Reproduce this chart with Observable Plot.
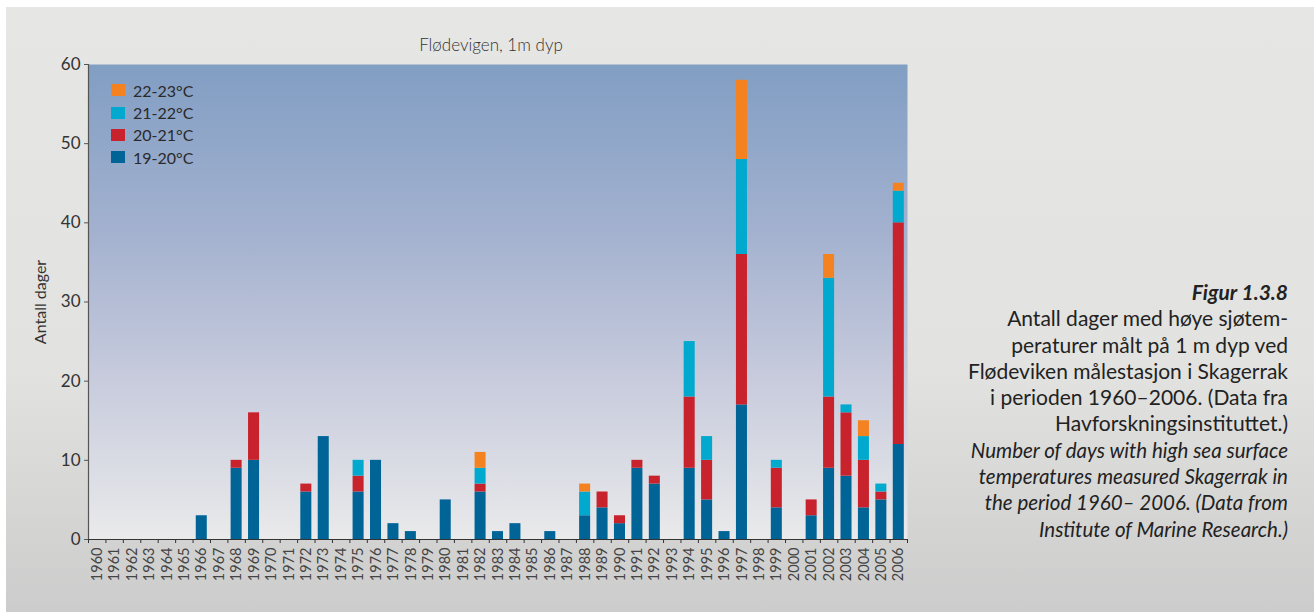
<!DOCTYPE html>
<html>
<head>
<meta charset="utf-8">
<script src="https://cdn.jsdelivr.net/npm/d3@7"></script>
<script src="https://cdn.jsdelivr.net/npm/@observablehq/plot@0.6"></script>
<style>
  html, body { margin: 0; padding: 0; background: #ffffff; }
  body { width: 1314px; height: 612px; position: relative; overflow: hidden; font-family: Lato, "Open Sans", sans-serif; }
  #panel { position: absolute; left: 6px; top: 7px; width: 1308px; height: 605px;
           background: linear-gradient(to bottom, #e6e6e4 0%, #e2e2e0 60%, #cccccc 100%); }
  #chart { position: absolute; left: 0; top: 0; }
  #title { position: absolute; left: 341px; width: 300px; top: 34px; text-align: center; font-size: 17px; color: #333; font-weight: 300; }
  #legend { position: absolute; left: 111px; top: 79px; font-size: 16px; color: #2a2a2a; }
  #legend .row { display: flex; align-items: center; height: 22.4px; }
  #legend .sw { width: 14px; height: 12px; margin-right: 8px; }
  #caption { position: absolute; right: 26px; top: 279px; text-align: right; font-size: 21px; line-height: 26.3px; color: #222; }
  #caption .en { font-style: italic; font-size: 20.5px; }
  #caption .fig { font-style: italic; font-weight: 700; }
</style>
</head>
<body>
<svg width="0" height="0" style="position:absolute">
  <defs>
    <linearGradient id="plotbg" x1="0" y1="0" x2="0" y2="1">
      <stop offset="0%" stop-color="#819ec3"/>
      <stop offset="35%" stop-color="#a3b1cf"/>
      <stop offset="65%" stop-color="#c6cadc"/>
      <stop offset="100%" stop-color="#eaeaeb"/>
    </linearGradient>
  </defs>
</svg>
<div id="panel"></div>
<div id="chart"></div>
<div id="title">Flødevigen, 1m dyp</div>
<div id="legend"></div>
<div id="caption">
  <div class="fig">Figur 1.3.8</div>
  <div>Antall dager med høye sjøtem-</div>
  <div>peraturer målt på 1 m dyp ved</div>
  <div>Flødeviken målestasjon i Skagerrak</div>
  <div>i perioden 1960–2006. (Data fra</div>
  <div>Havforskningsinstituttet.)</div>
  <div class="en">Number of days with high sea surface</div>
  <div class="en">temperatures measured Skagerrak in</div>
  <div class="en">the period 1960– 2006. (Data from</div>
  <div class="en">Institute of Marine Research.)</div>
</div>
<script>
// ---- data ----
const years = d3.range(1960, 2007);
const seriesNames = ["19-20°C", "20-21°C", "21-22°C", "22-23°C"];
const seriesColors = ["#006497", "#c8232c", "#00a9cd", "#f58220"];
const yTicks = [0, 10, 20, 30, 40, 50, 60];
//            1960 .................................................................... 2006
const d19_20 = [0,0,0,0,0,0,3,0,9,10,0,0,6,13,0,6,10,2,1,0,5,0,6,1,2,0,1,0,3,4,2,9,7,0,9,5,1,17,0,4,0,3,9,8,4,5,12];
const d20_21 = [0,0,0,0,0,0,0,0,1,6,0,0,1,0,0,2,0,0,0,0,0,0,1,0,0,0,0,0,0,2,1,1,1,0,9,5,0,19,0,5,0,2,9,8,6,1,28];
const d21_22 = [0,0,0,0,0,0,0,0,0,0,0,0,0,0,0,2,0,0,0,0,0,0,2,0,0,0,0,0,3,0,0,0,0,0,7,3,0,12,0,1,0,0,15,1,3,1,4];
const d22_23 = [0,0,0,0,0,0,0,0,0,0,0,0,0,0,0,0,0,0,0,0,0,0,2,0,0,0,0,0,1,0,0,0,0,0,0,0,0,10,0,0,0,0,3,0,2,0,1];

const seriesData = [d19_20, d20_21, d21_22, d22_23];
const table = [];
seriesData.forEach((arr, si) => {
  arr.forEach((v, i) => { if (v > 0) table.push({year: years[i], series: seriesNames[si], value: v}); });
});

const W = 920, H = 612;
const mL = 88, mR = 13, mT = 64, mB = 73;
const boundaries = d3.range(years[0], years[years.length - 1] + 2);

const chart = Plot.plot({
  width: W,
  height: H,
  marginLeft: mL,
  marginRight: mR,
  marginTop: mT,
  marginBottom: mB,
  style: {background: "transparent", fontFamily: "Lato, 'Open Sans', sans-serif", color: "#333"},
  x: {type: "linear", domain: [years[0], years[years.length - 1] + 1], label: null},
  y: {domain: [0, 60], label: null},
  color: {domain: seriesNames, range: seriesColors},
  marks: [
    Plot.frame({fill: "url(#plotbg)", stroke: "none"}),
    Plot.rectY(table, Plot.stackY({x1: d => d.year, x2: d => d.year + 1, y: "value", fill: "series", order: seriesNames, insetLeft: 3.2, insetRight: 3.2})),
    Plot.ruleY([0], {stroke: "#333", strokeWidth: 1.2}),
    Plot.ruleX([years[0]], {stroke: "#555", strokeWidth: 1.2}),
    Plot.axisY({ticks: yTicks, tickSize: 4, tickPadding: 4, fontSize: 17, stroke: "#555", fill: "#333", label: null}),
    Plot.axisX({ticks: boundaries, tickSize: 4, tickFormat: () => "", stroke: "#333", label: null}),
    Plot.text(years, {x: d => d + 0.5, text: d => String(d), frameAnchor: "bottom", dy: 8, rotate: -90, textAnchor: "end", lineAnchor: "middle", fontSize: 14.5, fill: "#444"}),
    Plot.text(["Antall dager"], {frameAnchor: "left", dx: -48, rotate: -90, textAnchor: "middle", lineAnchor: "middle", fontSize: 16, fill: "#333", text: d => d})
  ]
});
document.getElementById("chart").appendChild(chart);

// legend (top-down: 22-23 first)
const legend = document.getElementById("legend");
for (let i = seriesNames.length - 1; i >= 0; i--) {
  const row = document.createElement("div");
  row.className = "row";
  const sw = document.createElement("div");
  sw.className = "sw";
  sw.style.background = seriesColors[i];
  const lab = document.createElement("span");
  lab.textContent = seriesNames[i];
  row.appendChild(sw); row.appendChild(lab);
  legend.appendChild(row);
}
</script>
</body>
</html>
